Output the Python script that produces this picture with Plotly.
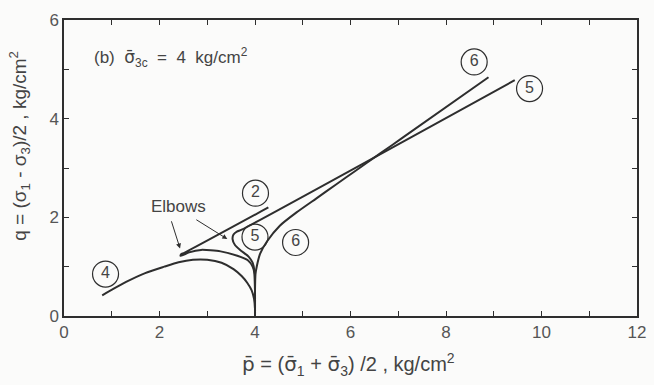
import plotly.graph_objects as go

# Effective stress paths, p-bar vs q (kg/cm^2), all starting from isotropic consolidation at 4
p_path4 = [4.0, 4.0, 3.98, 3.93, 3.84, 3.72, 3.55, 3.3, 3.0, 2.7, 2.4, 2.1, 1.7, 1.3, 0.8]
q_path4 = [0.0, 0.15, 0.35, 0.52, 0.67, 0.81, 0.95, 1.08, 1.14, 1.14, 1.09, 1.0, 0.87, 0.69, 0.42]

p_path2 = [4.0, 4.0, 3.99, 3.95, 3.85, 3.63, 3.28, 2.87, 2.62, 2.5, 2.44, 2.45, 2.52, 4.28]
q_path2 = [0.0, 0.5, 0.85, 1.0, 1.13, 1.22, 1.31, 1.34, 1.29, 1.24, 1.22, 1.25, 1.28, 2.2]

p_path5 = [4.0, 4.0, 3.99, 3.95, 3.87, 3.7, 3.58, 3.53, 3.55, 3.62, 3.72, 9.44]
q_path5 = [0.0, 0.5, 0.9, 1.08, 1.2, 1.33, 1.44, 1.56, 1.65, 1.71, 1.75, 4.78]

p_path6 = [4.0, 4.0, 4.01, 4.04, 4.11, 4.25, 4.52, 4.87, 5.28, 5.69, 6.1, 6.6, 7.1, 8.89]
q_path6 = [0.0, 0.5, 0.85, 1.02, 1.27, 1.51, 1.83, 2.1, 2.38, 2.66, 2.94, 3.28, 3.62, 4.84]

# Circled path numbers
tag_text = ["4", "2", "5", "6", "6", "5"]
tag_p = [0.87, 4.01, 4.0, 4.85, 8.59, 9.75]
tag_q = [0.85, 2.49, 1.6, 1.49, 5.15, 4.61]

# Axis ticks
x_ticks = list(range(0, 13))
x_ticklabels = [str(v) if v % 2 == 0 else "" for v in x_ticks]
y_ticks = list(range(0, 7))
y_ticklabels = [str(v) if v % 2 == 0 else "" for v in y_ticks]

INK = "#2e2e2e"
TEXT = "#444444"
FONT = "Liberation Sans, Arial, Helvetica, sans-serif"
SIGMA_BAR = '<span style="font-family:DejaVu Sans">σ\u0304</span>'
P_BAR = '<span style="font-family:DejaVu Sans">p\u0304</span>'

fig = go.Figure()
for px_, qy_ in [(p_path4, q_path4), (p_path2, q_path2), (p_path5, q_path5), (p_path6, q_path6)]:
    fig.add_trace(go.Scatter(
        x=px_, y=qy_, mode="lines",
        line=dict(color=INK, width=2, shape="spline", smoothing=0.6),
        hoverinfo="skip", showlegend=False,
    ))

fig.add_trace(go.Scatter(
    x=tag_p, y=tag_q, mode="markers+text", text=tag_text,
    textposition="middle center",
    textfont=dict(family=FONT, size=16, color=TEXT),
    marker=dict(symbol="circle-open", size=26, color=INK, line=dict(width=1.2, color=INK)),
    hoverinfo="skip", showlegend=False,
))

annotations = [
    dict(x=0.58, y=5.23, xref="x", yref="y", xanchor="left", yanchor="middle",
         text="(b)  " + SIGMA_BAR + "<sub>3c</sub>  =  4  kg/cm<sup>2</sup>", showarrow=False,
         font=dict(family=FONT, size=17, color=TEXT)),
    dict(x=2.39, y=2.22, xref="x", yref="y", text="Elbows", showarrow=False,
         font=dict(family=FONT, size=17, color=TEXT)),
    dict(x=2.43, y=1.37, ax=2.24, ay=1.95, xref="x", yref="y", axref="x", ayref="y",
         text="", showarrow=True, arrowhead=2, arrowsize=1, arrowwidth=1, arrowcolor=INK),
    dict(x=3.42, y=1.56, ax=2.74, ay=1.97, xref="x", yref="y", axref="x", ayref="y",
         text="", showarrow=True, arrowhead=2, arrowsize=1, arrowwidth=1, arrowcolor=INK),
    dict(x=0.497, y=-0.165, xref="paper", yref="paper", xanchor="center", yanchor="middle",
         text=P_BAR + " = (" + SIGMA_BAR + "<sub>1</sub> + " + SIGMA_BAR
              + "<sub>3</sub>) /2 , kg/cm<sup>2</sup>",
         showarrow=False, font=dict(family=FONT, size=20, color=TEXT)),
    dict(x=-0.079, y=0.574, xref="paper", yref="paper", xanchor="center", yanchor="middle",
         text="q = (σ<sub>1</sub> - σ<sub>3</sub>)/2 , kg/cm<sup>2</sup>", textangle=-90,
         showarrow=False, font=dict(family=FONT, size=19, color=TEXT)),
]

axis_common = dict(
    showgrid=False, zeroline=False, showline=True, linecolor=INK, linewidth=1.5,
    mirror="ticks", ticks="inside", ticklen=5, tickwidth=1.2, tickcolor=INK,
    tickfont=dict(family=FONT, size=17, color="#555555"),
)

fig.update_layout(
    width=654, height=385,
    margin=dict(l=64, r=8, t=20, b=69),
    paper_bgcolor="#fbfbfa", plot_bgcolor="#fbfbfa",
    xaxis=dict(range=[0, 12], tickmode="array", tickvals=x_ticks, ticktext=x_ticklabels, **axis_common),
    yaxis=dict(range=[0, 6], tickmode="array", tickvals=y_ticks, ticktext=y_ticklabels, **axis_common),
    annotations=annotations,
    showlegend=False,
)

fig.write_html("out.html")
